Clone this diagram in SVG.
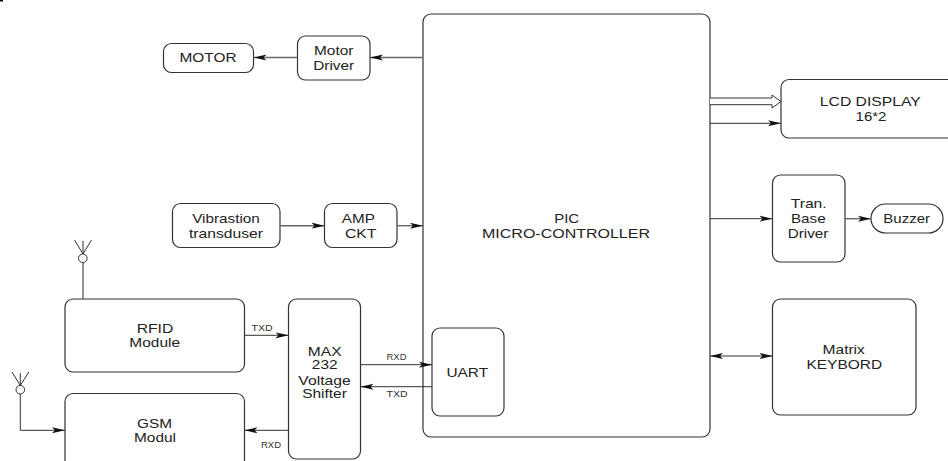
<svg xmlns="http://www.w3.org/2000/svg" width="948" height="461" viewBox="0 0 948 461">
<style>
.b{fill:#fff;stroke:#333;stroke-width:1.2}
.t{font-family:"Liberation Sans",Arial,sans-serif;font-size:13.5px;fill:#222;text-anchor:middle}
.s{font-family:"Liberation Sans",Arial,sans-serif;font-size:8.5px;fill:#333;text-anchor:middle}
.c{fill:none;stroke:#333;stroke-width:1;}
.g{fill:none;stroke:#666;stroke-width:1.4}
.a{marker-end:url(#ah)}
</style>
<defs>
<marker id="ah" markerUnits="userSpaceOnUse" markerWidth="14" markerHeight="8" refX="13" refY="4" orient="auto-start-reverse">
<path d="M0,1 L13,4 L0,7 L3,4 Z" fill="#111"/>
</marker>
</defs>
<rect x="0" y="0" width="3" height="1.5" fill="#000"/>
<g id="pic"><rect class="b" x="423" y="14" width="287" height="423" rx="8"/><text class="t" x="566.700" y="223.300" textLength="25" lengthAdjust="spacingAndGlyphs">PIC</text><text class="t" x="566" y="238.300" textLength="168" lengthAdjust="spacingAndGlyphs">MICRO-CONTROLLER</text></g>
<g id="uart"><rect class="b" x="432" y="328" width="72" height="88" rx="8"/><text class="t" x="467.300" y="376.700" textLength="41.700" lengthAdjust="spacingAndGlyphs">UART</text></g>
<g id="motor"><rect class="b" x="163.500" y="43.500" width="90" height="29" rx="8"/><text class="t" x="208" y="62.300" textLength="57" lengthAdjust="spacingAndGlyphs">MOTOR</text></g>
<g id="motor-driver"><rect class="b" x="297.500" y="36" width="72.500" height="44" rx="8"/><text class="t" x="333.700" y="55" textLength="39.300" lengthAdjust="spacingAndGlyphs">Motor</text><text class="t" x="333.700" y="70" textLength="41" lengthAdjust="spacingAndGlyphs">Driver</text></g>
<g id="vibration"><rect class="b" x="172.500" y="203.500" width="107.500" height="44" rx="8"/><text class="t" x="226" y="222.700" textLength="67.700" lengthAdjust="spacingAndGlyphs">Vibrastion</text><text class="t" x="226" y="238" textLength="74" lengthAdjust="spacingAndGlyphs">transduser</text></g>
<g id="amp"><rect class="b" x="324.500" y="203.500" width="72.500" height="44" rx="8"/><text class="t" x="358.300" y="222.700" textLength="33" lengthAdjust="spacingAndGlyphs">AMP</text><text class="t" x="360.700" y="238" textLength="31.500" lengthAdjust="spacingAndGlyphs">CKT</text></g>
<g id="rfid"><rect class="b" x="65" y="299" width="179.500" height="73" rx="8"/><text class="t" x="155" y="333.300" textLength="36.700" lengthAdjust="spacingAndGlyphs">RFID</text><text class="t" x="154.700" y="347.300" textLength="50.700" lengthAdjust="spacingAndGlyphs">Module</text></g>
<g id="gsm"><rect class="b" x="65" y="393.500" width="179.500" height="80" rx="8"/><text class="t" x="154.500" y="428.300" textLength="35" lengthAdjust="spacingAndGlyphs">GSM</text><text class="t" x="155" y="442.300" textLength="42" lengthAdjust="spacingAndGlyphs">Modul</text></g>
<g id="max232"><rect class="b" x="288.500" y="299" width="72" height="160" rx="8"/><text class="t" x="324.700" y="355.700" textLength="33.700" lengthAdjust="spacingAndGlyphs">MAX</text><text class="t" x="324.700" y="369.300" textLength="25.700" lengthAdjust="spacingAndGlyphs">232</text><text class="t" x="324.500" y="384.700" textLength="52.300" lengthAdjust="spacingAndGlyphs">Voltage</text><text class="t" x="324.500" y="398.300" textLength="44.700" lengthAdjust="spacingAndGlyphs">Shifter</text></g>
<g id="lcd"><rect class="b" x="781" y="79.500" width="190" height="58.500" rx="8"/><text class="t" x="870.300" y="105.700" textLength="101" lengthAdjust="spacingAndGlyphs">LCD DISPLAY</text><text class="t" x="871" y="121.300" textLength="31" lengthAdjust="spacingAndGlyphs">16*2</text></g>
<g id="tran"><rect class="b" x="772.500" y="175" width="72.500" height="87" rx="8"/><text class="t" x="808.700" y="208.300" textLength="36" lengthAdjust="spacingAndGlyphs">Tran.</text><text class="t" x="808.300" y="223.300" textLength="34.700" lengthAdjust="spacingAndGlyphs">Base</text><text class="t" x="808" y="238.300" textLength="40.700" lengthAdjust="spacingAndGlyphs">Driver</text></g>
<g id="buzzer"><rect class="b" x="871" y="204" width="72" height="29" rx="14.500"/><text class="t" x="906.700" y="223.300" textLength="46.700" lengthAdjust="spacingAndGlyphs">Buzzer</text></g>
<g id="keyboard"><rect class="b" x="772.500" y="299" width="143.500" height="116" rx="8"/><text class="t" x="843.700" y="354.300" textLength="42.300" lengthAdjust="spacingAndGlyphs">Matrix</text><text class="t" x="844.300" y="369.300" textLength="75.700" lengthAdjust="spacingAndGlyphs">KEYBORD</text></g>
<g id="connectors">
<path class="g a" d="M297.500,57.500H253.500"/>
<path class="g a" d="M423,57.500H370"/>
<path class="g a" d="M280,225.700H324.500"/>
<path class="g a" d="M397,225.700H423"/>
<path class="c a" d="M244.500,335.300H288.500"/>
<path class="c a" d="M288.500,430.300H244.500"/>
<path class="c a" d="M360.500,364.700H432"/>
<path class="c a" d="M432,386.700H360.500"/>
<path class="c a" d="M710,123.300H781"/>
<path class="c a" d="M710,218.700H772.500"/>
<path class="g a" d="M845,218.700H871"/>
<path d="M710,98H772V95L781,101.500L772,108V104.700H710" fill="#fff" stroke="#333" stroke-width="1"/>
<path class="c" d="M710,356H772.500" marker-start="url(#ah)" marker-end="url(#ah)"/>
<path class="g" d="M83,262.500V299"/>
<path class="c a" d="M20.300,394V430.300H65"/>
<circle cx="82.800" cy="258.300" r="4.300" fill="#fff" stroke="#333"/>
<path class="c" d="M83,254L74.500,240M83,254L91.500,240M83,254V241"/>
<circle cx="20.300" cy="389.700" r="4.300" fill="#fff" stroke="#333"/>
<path class="c" d="M20.300,385.500L12,372M20.300,385.500L28.800,372M20.300,385.500V373"/>
</g>
<text class="s" x="262" y="330.500" textLength="21" lengthAdjust="spacingAndGlyphs">TXD</text>
<text class="s" x="271" y="448" textLength="20" lengthAdjust="spacingAndGlyphs">RXD</text>
<text class="s" x="396.500" y="360" textLength="20" lengthAdjust="spacingAndGlyphs">RXD</text>
<text class="s" x="397" y="396.700" textLength="21" lengthAdjust="spacingAndGlyphs">TXD</text>
</svg>
